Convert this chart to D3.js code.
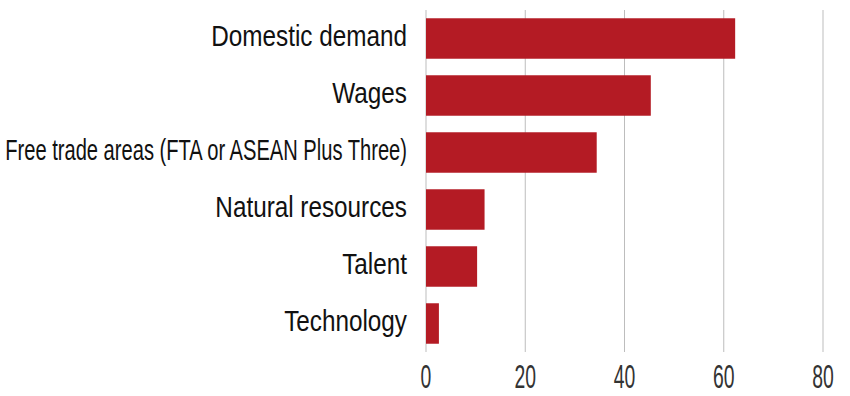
<!DOCTYPE html>
<html>
<head>
<meta charset="utf-8">
<script src="https://cdn.jsdelivr.net/npm/d3@7"></script>
<style>
  body { margin: 0; background: #fff; }
  svg { display: block; font-family: "Liberation Sans", Arial, sans-serif; }
</style>
</head>
<body>
<svg id="chart"></svg>
<script>
// Factors and their share (%)
const categories = ["Domestic demand", "Wages", "Free trade areas (FTA or ASEAN Plus Three)",
  "Natural resources", "Talent", "Technology"];
const values = [62.3, 45.3, 34.4, 11.8, 10.3, 2.6];
const ticks = [0, 20, 40, 60, 80];

const width = 850;
const height = 396;
const margin = { top: 10, right: 27, bottom: 44, left: 426 };

const svg = d3.select("#chart")
  .attr("width", width)
  .attr("height", height);

const x = d3.scaleLinear()
  .domain([0, 80])
  .range([margin.left, width - margin.right]);

const y = d3.scaleBand()
  .domain(categories)
  .range([margin.top, height - margin.bottom])
  .paddingInner(0.29)
  .paddingOuter(0.145);

// Vertical gridlines (drawn under the bars)
svg.append("g")
  .selectAll("line")
  .data(ticks)
  .enter().append("line")
  .attr("x1", d => x(d))
  .attr("x2", d => x(d))
  .attr("y1", margin.top)
  .attr("y2", height - margin.bottom)
  .attr("stroke", "#bdbdbd")
  .attr("stroke-width", 1);

// Bars
svg.append("g")
  .selectAll("rect")
  .data(categories)
  .enter().append("rect")
  .attr("x", x(0))
  .attr("y", d => y(d))
  .attr("width", (d, i) => x(values[i]) - x(0))
  .attr("height", y.bandwidth())
  .attr("fill", "#b41b24");

// Category labels, condensed; the long one is squeezed to fit the left margin
const labelRight = margin.left - 19;
const labelScale = 0.81;
svg.append("g")
  .selectAll("text")
  .data(categories)
  .enter().append("text")
  .attr("text-anchor", "end")
  .attr("font-size", "30px")
  .attr("fill", "#111")
  .attr("dy", "0.26em")
  .text(d => d)
  .attr("transform", function(d) {
    const w = this.getComputedTextLength();
    const s = Math.min(labelScale, (labelRight - 5) / w);
    return `translate(${labelRight},${y(d) + y.bandwidth() / 2}) scale(${s},1)`;
  });

// Tick labels along the bottom
svg.append("g")
  .selectAll("text")
  .data(ticks)
  .enter().append("text")
  .attr("text-anchor", "middle")
  .attr("font-size", "34px")
  .attr("fill", "#333")
  .attr("transform", d => `translate(${x(d)},${height - 8}) scale(0.57,1)`)
  .text(d => d);
</script>
</body>
</html>
